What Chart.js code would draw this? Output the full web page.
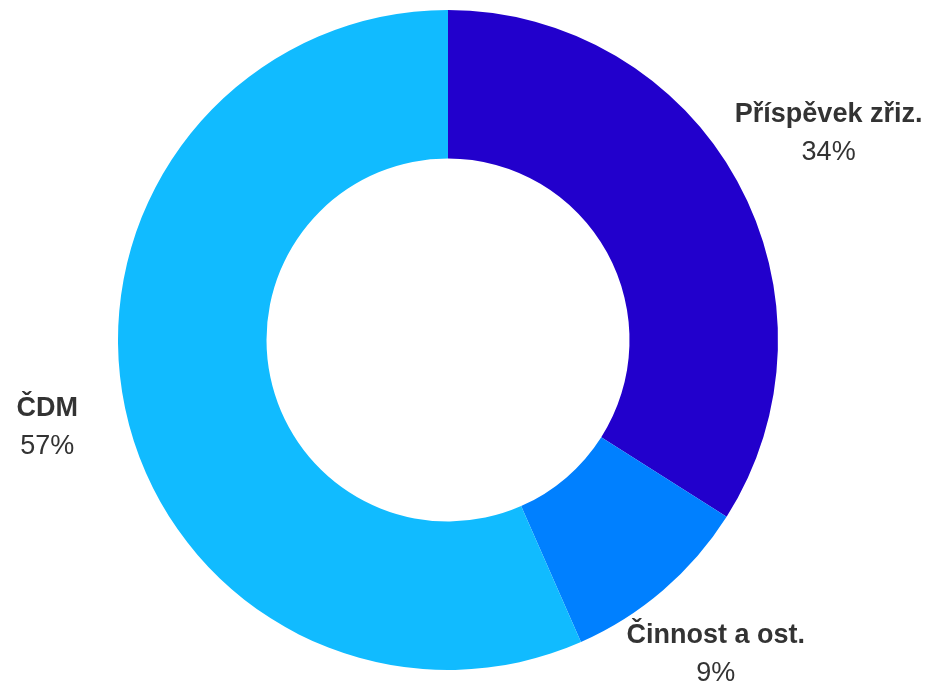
<!DOCTYPE html>
<html>
<head>
<meta charset="utf-8">
<script src="https://cdn.jsdelivr.net/npm/chart.js@4.4.0/dist/chart.umd.min.js"></script>
<style>
html,body{margin:0;padding:0;background:#fff;}
#wrap{width:925px;height:686px;position:relative;}
</style>
</head>
<body>
<div id="wrap"><canvas id="c" width="925" height="686"></canvas></div>
<script>
const categories = ["Příspěvek zřiz.", "Činnost a ost.", "ČDM"];
const values = [34.0, 9.4, 56.6];
const percentLabels = ["34%", "9%", "57%"];
const colors = ["#2200CC", "#0080FF", "#11BBFF"];

const outsideLabels = {
  id: 'outsideLabels',
  afterDatasetsDraw(chart) {
    const ctx = chart.ctx;
    const meta = chart.getDatasetMeta(0);
    const boldFont = 'bold 27px "Liberation Sans", Arial, sans-serif';
    const normFont = '27px "Liberation Sans", Arial, sans-serif';
    ctx.save();
    ctx.textAlign = 'center';
    ctx.textBaseline = 'middle';
    ctx.fillStyle = '#333333';
    meta.data.forEach((arc, i) => {
      const mid = (arc.startAngle + arc.endAngle) / 2;
      const dx = Math.cos(mid), dy = Math.sin(mid);
      ctx.font = boldFont;
      const w1 = ctx.measureText(categories[i]).width;
      ctx.font = normFont;
      const w2 = ctx.measureText(percentLabels[i]).width;
      const hw = Math.max(w1, w2) / 2 + 8;
      const hh = 31;
      const gap = arc.outerRadius + 40;
      const inset = Math.min(Math.abs(dx) > 1e-6 ? hw / Math.abs(dx) : Infinity,
                             Math.abs(dy) > 1e-6 ? hh / Math.abs(dy) : Infinity);
      const t = gap + inset;
      const x = arc.x + dx * t;
      const y = arc.y + dy * t + 3;
      ctx.font = boldFont;
      ctx.fillText(categories[i], x, y - 19);
      ctx.font = normFont;
      ctx.fillText(percentLabels[i], x, y + 19);
    });
    ctx.restore();
  }
};

new Chart(document.getElementById('c'), {
  type: 'doughnut',
  data: {
    labels: categories,
    datasets: [{
      data: values,
      backgroundColor: colors,
      borderWidth: 0,
      hoverOffset: 0
    }]
  },
  options: {
    responsive: false,
    animation: false,
    cutout: '55%',
    layout: { padding: { left: 118, right: 147, top: 10, bottom: 16 } },
    plugins: {
      legend: { display: false },
      tooltip: { enabled: false }
    }
  },
  plugins: [outsideLabels]
});
</script>
</body>
</html>
